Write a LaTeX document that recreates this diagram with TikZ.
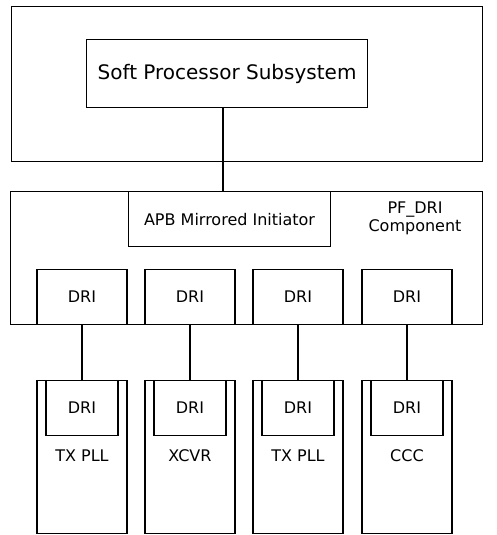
\documentclass[tikz,border=0pt]{standalone}
\usepackage{fontspec}
\setmainfont{DejaVu Sans}

\begin{document}
\begin{tikzpicture}[x=1pt,y=-1pt,line width=1.1pt,
  box/.style={draw,rectangle,inner sep=0pt,anchor=north west,font=\fontsize{16}{18}\selectfont},
  txt/.style={inner sep=0pt,align=center,font=\fontsize{16}{18}\selectfont}]
\useasboundingbox (0,0) rectangle (496,535);
% outer boxes
\node[box,minimum width=471pt,minimum height=155pt] (sys) at (11,6) {};
\node[box,minimum width=472pt,minimum height=133pt] (pfdri) at (10,191) {};
\node[box,minimum width=281pt,minimum height=68pt,font=\fontsize{20}{22}\selectfont] (soft) at (86,39) {Soft Processor Subsystem};
\node[box,minimum width=202pt,minimum height=55pt] (apb) at (128,191) {APB Mirrored Initiator};
\node[txt] (pflbl) at (415,218) {PF\_DRI\\Component};
\coordinate (bus) at (223,0);
\draw (soft.south -| bus) -- (apb.north -| bus);
% DRI columns
\foreach \i/\x/\name in {1/82/TX PLL,2/190/XCVR,3/298/TX PLL,4/407/CCC}{
  \node[box,anchor=north,minimum width=90pt,minimum height=55pt] (dri\i) at (\x,269) {DRI};
  \node[box,anchor=north,minimum width=90pt,minimum height=153pt] (dev\i) at (\x,380) {};
  \node[box,anchor=north,minimum width=72pt,minimum height=55pt] (ddri\i) at (\x,380) {DRI};
  \node[txt] (lab\i) at (\x,456) {\name};
  \draw (dri\i.south) -- (ddri\i.north);
}
\end{tikzpicture}
\end{document}
